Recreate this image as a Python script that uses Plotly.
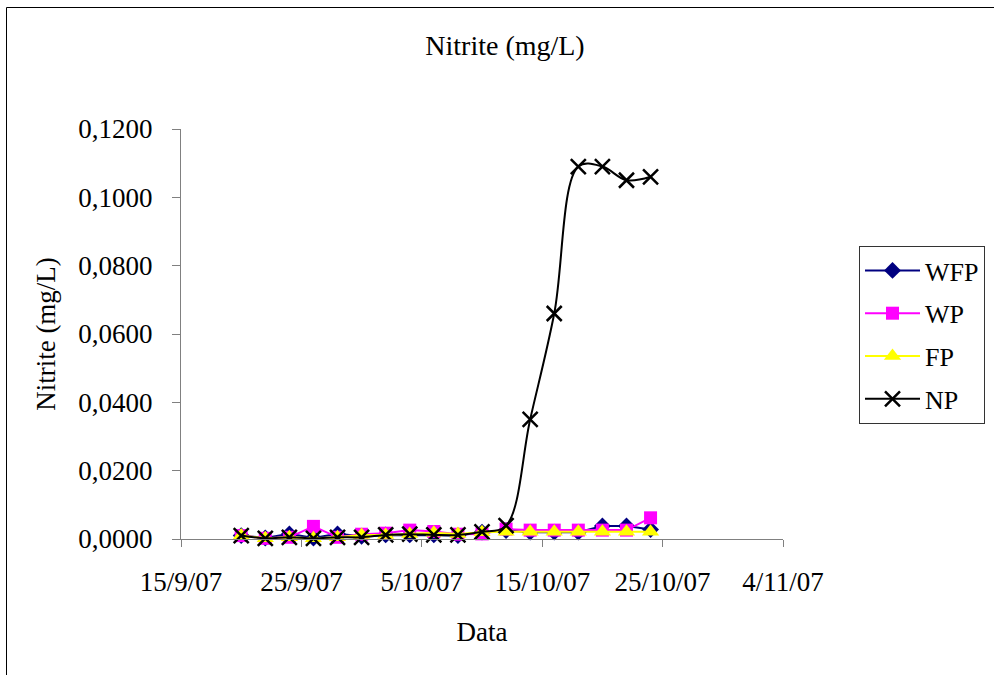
import plotly.graph_objects as go

dates = ["2007-09-20", "2007-09-22", "2007-09-24", "2007-09-26", "2007-09-28", "2007-09-30",
         "2007-10-02", "2007-10-04", "2007-10-06", "2007-10-08", "2007-10-10", "2007-10-12",
         "2007-10-14", "2007-10-16", "2007-10-18", "2007-10-20", "2007-10-22", "2007-10-24"]

wfp = [0.0010, 0.0003, 0.0015, 0.0003, 0.0015, 0.0008, 0.0012, 0.0012, 0.0012, 0.0010,
       0.0020, 0.0025, 0.0020, 0.0020, 0.0020, 0.0038, 0.0038, 0.0028]
wp = [0.0010, 0.0002, 0.0005, 0.0037, 0.0005, 0.0014, 0.0017, 0.0026, 0.0022, 0.0014,
      0.0015, 0.0029, 0.0026, 0.0026, 0.0026, 0.0026, 0.0026, 0.0062]
fp = [0.0010, 0.0002, 0.0005, 0.0002, 0.0005, 0.0012, 0.0012, 0.0015, 0.0018, 0.0015,
      0.0020, 0.0021, 0.0021, 0.0021, 0.0021, 0.0021, 0.0021, 0.0021]
np_ = [0.0010, 0.0002, 0.0005, 0.0002, 0.0005, 0.0005, 0.0012, 0.0014, 0.0012, 0.0012,
       0.0021, 0.0039, 0.0350, 0.0660, 0.1090, 0.1090, 0.1050, 0.1060]

x_tickvals = ["2007-09-15", "2007-09-25", "2007-10-05", "2007-10-15", "2007-10-25", "2007-11-04"]
x_ticktext = ["15/9/07", "25/9/07", "5/10/07", "15/10/07", "25/10/07", "4/11/07"]
y_tickvals = [0, 0.02, 0.04, 0.06, 0.08, 0.10, 0.12]
y_ticktext = ["0,0000", "0,0200", "0,0400", "0,0600", "0,0800", "0,1000", "0,1200"]

FONT = "Liberation Serif, Times New Roman, serif"
W, H = 994, 675
L, R, T, B = 181, 994 - 783, 129, 675 - 539

fig = go.Figure()
fig.add_trace(go.Scatter(x=dates, y=wfp, name="WFP", mode="lines+markers",
                         line=dict(color="#000080", width=2),
                         marker=dict(symbol="diamond", size=13, color="#000080"),
                         cliponaxis=False, legendgroup="a"))
fig.add_trace(go.Scatter(x=dates, y=wp, name="WP", mode="lines+markers",
                         line=dict(color="#FF00FF", width=2),
                         marker=dict(symbol="square", size=13, color="#FF00FF"),
                         cliponaxis=False, legendgroup="b"))
fig.add_trace(go.Scatter(x=dates, y=fp, name="FP", mode="lines+markers",
                         line=dict(color="#FFFF00", width=2),
                         marker=dict(symbol="triangle-up", size=15, color="#FFFF00"),
                         cliponaxis=False, legendgroup="c"))
fig.add_trace(go.Scatter(x=dates, y=np_, name="NP", mode="lines+markers",
                         line=dict(color="#000000", width=2, shape="spline"),
                         marker=dict(symbol="x-thin", size=15, color="#000000",
                                     line=dict(width=2.5, color="#000000")),
                         cliponaxis=False, legendgroup="d"))

pw = W - L - R
ph = H - T - B
fig.update_layout(
    width=W, height=H,
    margin=dict(l=L, r=R, t=T, b=B, pad=0, autoexpand=False),
    paper_bgcolor="white", plot_bgcolor="white",
    font=dict(family=FONT, size=27, color="black"),
    title=dict(text="Nitrite (mg/L)", x=505 / W, xref="container", xanchor="center",
               y=1 - 45 / H, yref="container", yanchor="middle",
               font=dict(family=FONT, size=28, color="black")),
    xaxis=dict(type="date", range=["2007-09-15", "2007-11-04"],
               tickvals=x_tickvals, ticktext=x_ticktext,
               showline=True, linecolor="#808080", linewidth=1,
               ticks="outside", ticklen=7, tickcolor="#808080",
               showgrid=False, zeroline=False, ticklabelstandoff=12,
               automargin=False,
               title=dict(text="Data", standoff=25, font=dict(size=27))),
    yaxis=dict(range=[0, 0.12], tickvals=y_tickvals, ticktext=y_ticktext,
               showline=True, linecolor="#808080", linewidth=1,
               ticks="outside", ticklen=8, tickcolor="#808080",
               showgrid=False, zeroline=False, ticklabelstandoff=14,
               automargin=False,
               title=dict(text="Nitrite (mg/L)", standoff=14, font=dict(size=27))),
    legend=dict(x=(859 - L) / pw, xanchor="left", y=(539 - 246) / ph, yanchor="top",
                bordercolor="#333333", borderwidth=1, bgcolor="white",
                font=dict(family=FONT, size=26, color="black"),
                tracegroupgap=6, itemwidth=55),
    showlegend=True,
    shapes=[dict(type="rect", xref="paper", yref="paper",
                 x0=(6.5 - L) / pw, x1=(1010 - L) / pw,
                 y0=(539 - 700) / ph, y1=(539 - 7.5) / ph,
                 line=dict(color="black", width=1), fillcolor="rgba(0,0,0,0)",
                 layer="below")],
)

fig.write_html("out.html")
